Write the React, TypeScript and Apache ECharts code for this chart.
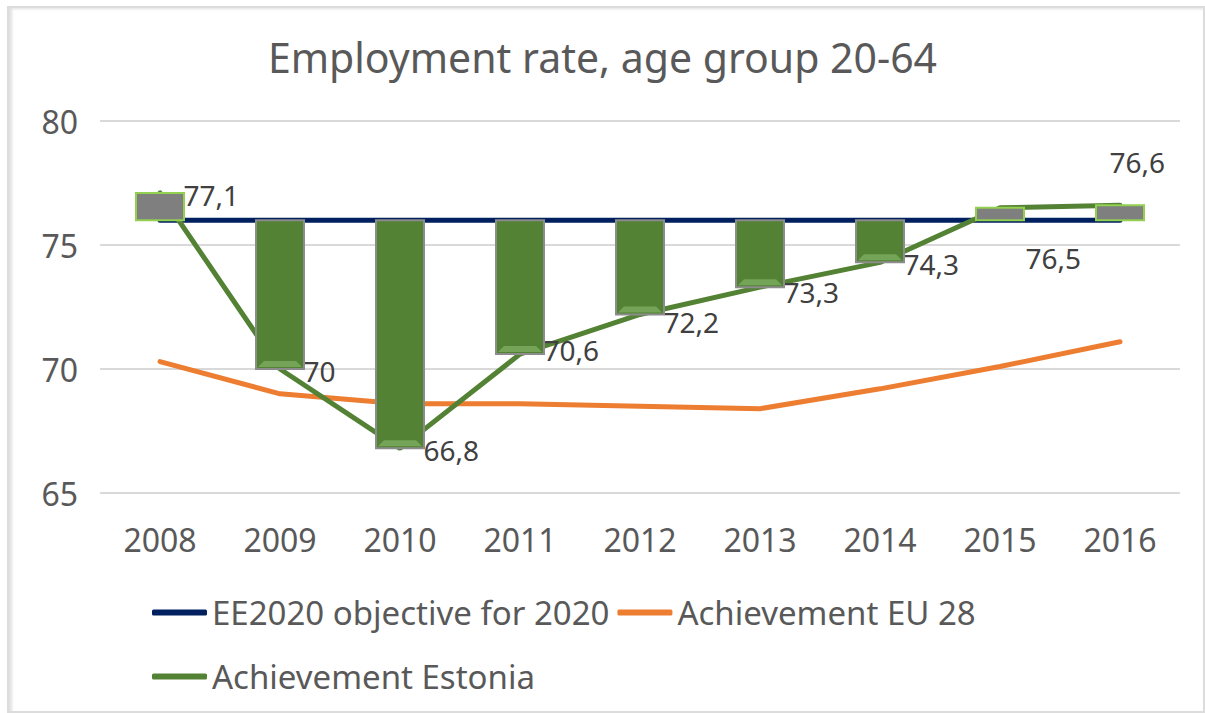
import React, { useEffect, useRef } from "react";
import * as echarts from "echarts";

const years = ["2008", "2009", "2010", "2011", "2012", "2013", "2014", "2015", "2016"];
const objective = [76, 76, 76, 76, 76, 76, 76, 76, 76];
const eu28 = [70.3, 69.0, 68.6, 68.6, 68.5, 68.4, 69.2, 70.1, 71.1];
const estonia = [77.1, 70, 66.8, 70.6, 72.2, 73.3, 74.3, 76.5, 76.6];
const yMin = 65;
const yMax = 80;
const yStep = 5;

const seriesNames = ["EE2020 objective for 2020", "Achievement EU 28", "Achievement Estonia"];

const FONT = "'Noto Sans', 'Open Sans', sans-serif";
const TEXT = "#595959";

// label placement tweaks (style only)
const labelOffsets: number[][] = [
  [0, 2], [0, 2], [0, 2], [0, -4], [0, 8], [0, 5], [0, 2], [2, 50], [-34, -43],
];

export default function App() {
  const ref = useRef<HTMLDivElement>(null);

  useEffect(() => {
    if (!ref.current) return;
    const chart = echarts.init(ref.current, null, { renderer: "svg" });

    const estData = estonia.map((v, i) => ({
      value: v,
      label: { offset: labelOffsets[i] },
    }));

    const barData = years.map((_, i) => [i, estonia[i], objective[i]]);

    chart.setOption({
      animation: false,
      backgroundColor: "transparent",
      textStyle: { fontFamily: FONT },
      title: {
        text: "Employment rate, age group 20-64",
        left: "center",
        top: 31,
        textStyle: { fontFamily: FONT, fontSize: 41, fontWeight: "normal", color: TEXT },
      },
      legend: [
        {
          data: [seriesNames[0], seriesNames[1]],
          left: 152,
          top: 596,
          padding: 0,
          itemGap: 8,
          itemWidth: 55,
          itemHeight: 6,
          icon: "roundRect",
          textStyle: { fontFamily: FONT, fontSize: 33, color: TEXT },
        },
        {
          data: [seriesNames[2]],
          left: 152,
          top: 660,
          padding: 0,
          itemWidth: 55,
          itemHeight: 6,
          icon: "roundRect",
          textStyle: { fontFamily: FONT, fontSize: 33, color: TEXT },
        },
      ],
      grid: { left: 100, right: 25, top: 121, bottom: 220 },
      xAxis: {
        type: "category",
        data: years,
        boundaryGap: true,
        axisLine: { show: false },
        axisTick: { show: false },
        axisLabel: { fontFamily: FONT, fontSize: 32, color: TEXT, margin: 30 },
      },
      yAxis: {
        type: "value",
        min: yMin,
        max: yMax,
        interval: yStep,
        axisLine: { show: false },
        axisTick: { show: false },
        axisLabel: { fontFamily: FONT, fontSize: 32, color: TEXT, margin: 22 },
        splitLine: { lineStyle: { color: "#d9d9d9", width: 2 } },
      },
      series: [
        {
          name: seriesNames[0],
          type: "line",
          data: objective,
          showSymbol: false,
          symbol: "none",
          lineStyle: { color: "#002060", width: 5, cap: "round" },
          itemStyle: { color: "#002060" },
          z: 2,
        },
        {
          name: seriesNames[1],
          type: "line",
          data: eu28,
          showSymbol: false,
          symbol: "none",
          lineStyle: { color: "#ED7D31", width: 5, cap: "round" },
          itemStyle: { color: "#ED7D31" },
          z: 2,
        },
        {
          name: seriesNames[2],
          type: "line",
          data: estData,
          symbol: "circle",
          symbolSize: 3,
          lineStyle: { color: "#548235", width: 5, cap: "round" },
          itemStyle: { color: "#548235" },
          label: {
            show: true,
            position: "right",
            distance: 22,
            fontFamily: FONT,
            fontSize: 28,
            color: "#404040",
            formatter: (p: any) => String(p.value).replace(".", ","),
          },
          z: 3,
        },
        {
          type: "custom",
          data: barData,
          encode: { x: 0, y: [1, 2] },
          z: 4,
          silent: true,
          renderItem: (params: any, api: any) => {
            const i = api.value(0);
            const est = api.value(1);
            const tgt = api.value(2);
            const p1 = api.coord([i, tgt]);
            const p2 = api.coord([i, est]);
            const w = 48;
            const x = p1[0] - w / 2;
            const top = Math.min(p1[1], p2[1]);
            const h = Math.abs(p2[1] - p1[1]);
            const below = est < tgt;
            const children: any[] = [
              {
                type: "rect",
                shape: { x, y: top, width: w, height: h },
                style: {
                  fill: below ? "#548235" : "#7f7f7f",
                  stroke: below ? "#8c8c8c" : "#92D050",
                  lineWidth: 2,
                },
              },
            ];
            if (below && h > 12) {
              const b = top + h - 2;
              children.push({
                type: "polygon",
                shape: {
                  points: [
                    [x + 2, b],
                    [x + w - 2, b],
                    [x + w - 8, b - 6],
                    [x + 8, b - 6],
                  ],
                },
                style: { fill: "#73a457" },
              });
            }
            return { type: "group", children };
          },
        },
      ],
    });

    return () => chart.dispose();
  }, []);

  return (
    <div style={{ position: "absolute", left: 0, top: 0, width: 1205, height: 713, background: "#fff" }}>
      <div
        style={{
          position: "absolute",
          left: 7,
          top: 6,
          width: 1194,
          height: 703,
          border: "2px solid #dcdcdc",
          boxShadow: "inset 4px 2px 3px -1px rgba(0,0,0,0.12)",
        }}
      />
      <div ref={ref} style={{ position: "absolute", left: 0, top: 0, width: 1205, height: 713 }} />
    </div>
  );
}
